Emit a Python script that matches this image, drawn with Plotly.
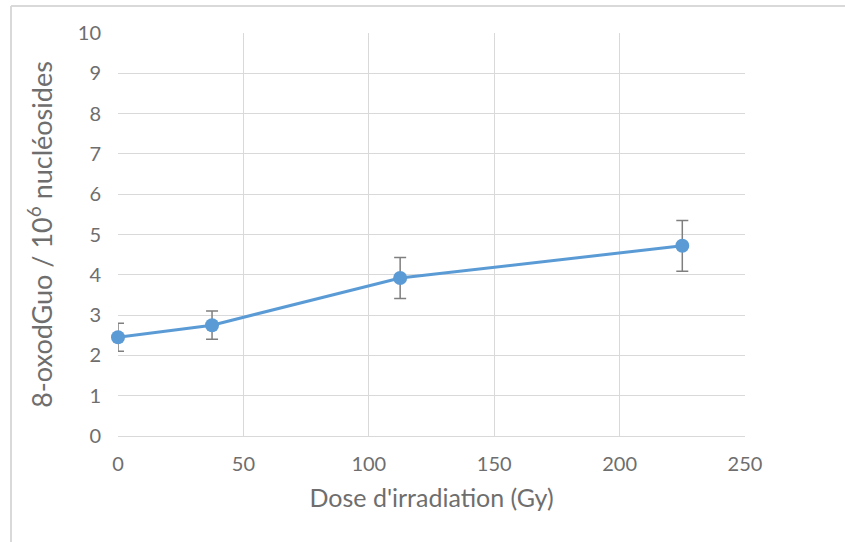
import plotly.graph_objects as go

dose = [0, 37.5, 112.5, 225]
oxo = [2.45, 2.75, 3.92, 4.72]
err = [0.35, 0.35, 0.51, 0.63]

W, H = 845, 542
L, R, T, B = 118, 100, 33, 106
pw, ph = W - L - R, H - T - B

fig = go.Figure()
fig.add_trace(go.Scatter(
    x=dose, y=oxo, mode="lines+markers",
    line=dict(color="#5b9bd5", width=3),
    marker=dict(color="#5b9bd5", size=14),
    error_y=dict(type="data", array=err, visible=True, color="#7f7f7f", thickness=1.5, width=6),
    cliponaxis=False, showlegend=False,
))

font = "Lato, 'Open Sans', sans-serif"
fig.update_layout(
    width=W, height=H,
    margin=dict(l=L, r=R, t=T, b=B),
    paper_bgcolor="white", plot_bgcolor="white",
    font=dict(family=font, color="#6e6e6e", size=20),
    xaxis=dict(range=[0, 250], dtick=50, showgrid=True, gridcolor="#d9d9d9", gridwidth=1,
               zeroline=False, showline=True, linecolor="#d9d9d9", linewidth=1,
               ticks="", ticklabelstandoff=10,
               title=dict(text="Dose d'irradiation (Gy)", font=dict(size=25), standoff=15)),
    yaxis=dict(range=[0, 10], dtick=1, showgrid=True, gridcolor="#d9d9d9", gridwidth=1,
               zeroline=False, showline=False, ticks="", ticklabelstandoff=16,
               title=dict(text="8-oxodGuo / 10<sup>6</sup> nucléosides", font=dict(size=27), standoff=17)),
)

xl = (11 - L) / pw
yt = 1 + (T - 6) / ph
fig.add_shape(type="line", xref="paper", yref="paper", x0=xl, x1=1.3, y0=yt, y1=yt,
              line=dict(color="#d9d9d9", width=2))
fig.add_shape(type="line", xref="paper", yref="paper", x0=xl, x1=xl, y0=yt, y1=-0.5,
              line=dict(color="#d9d9d9", width=2))

fig.write_html("out.html", config={"displayModeBar": False},
               post_script="document.body.style.margin='0';")
